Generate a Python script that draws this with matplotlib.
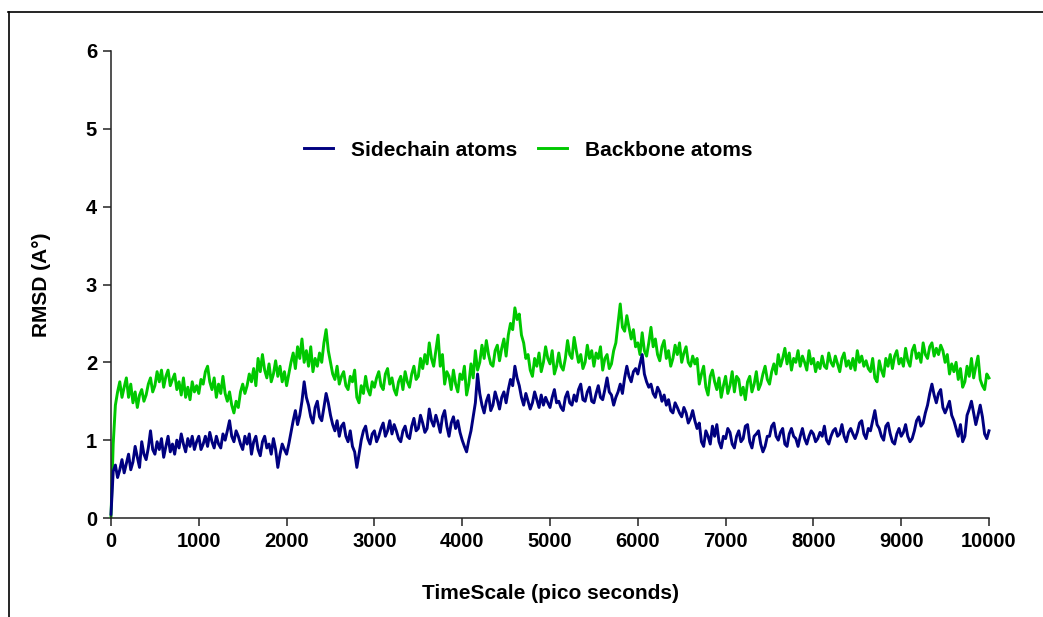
import numpy as np
import matplotlib
matplotlib.use("Agg")
import matplotlib.pyplot as plt
from matplotlib.lines import Line2D

plt.rcParams["font.family"] = ["Liberation Sans", "DejaVu Sans"]
plt.rcParams["font.weight"] = "bold"

# RMSD (Angstrom) sampled every 25 ps over the 10 ns trajectory (one row = 500 ps)
backbone_rmsd = [
    0.02, 0.95, 1.45, 1.62, 1.75, 1.55, 1.68, 1.8, 1.55, 1.72, 1.48, 1.62, 1.42, 1.58, 1.65, 1.5, 1.58, 1.72, 1.8, 1.62,
    1.7, 1.88, 1.75, 1.9, 1.68, 1.82, 1.9, 1.7, 1.78, 1.85, 1.65, 1.75, 1.58, 1.8, 1.55, 1.68, 1.52, 1.75, 1.62, 1.7,
    1.6, 1.78, 1.72, 1.88, 1.95, 1.75, 1.65, 1.8, 1.55, 1.72, 1.6, 1.82, 1.6, 1.5, 1.62, 1.45, 1.35, 1.5, 1.42, 1.62,
    1.72, 1.6, 1.7, 1.85, 1.75, 1.92, 1.7, 2.05, 1.88, 2.1, 1.9, 1.8, 1.98, 1.75, 1.85, 2.02, 1.82, 1.95, 1.75, 1.88,
    1.7, 1.85, 2.0, 2.12, 1.92, 2.2, 2.05, 2.3, 2.0, 2.15, 1.95, 2.2, 1.88, 2.05, 1.95, 2.12, 2.0, 2.25, 2.42, 2.15,
    2.0, 1.85, 1.78, 1.95, 1.72, 1.82, 1.88, 1.7, 1.65, 1.82, 1.75, 1.9, 1.55, 1.48, 1.7, 1.6, 1.82, 1.65, 1.58, 1.75,
    1.68, 1.8, 1.88, 1.7, 1.65, 1.85, 1.92, 1.72, 1.8, 1.65, 1.58, 1.75, 1.82, 1.65, 1.88, 1.75, 1.68, 1.85, 1.95, 1.78,
    1.82, 2.05, 1.92, 2.1, 1.98, 2.25, 2.05, 1.95, 2.15, 2.35, 1.95, 2.1, 1.72, 1.88, 1.82, 1.65, 1.9, 1.72, 1.62, 1.85,
    1.78, 1.95, 1.58, 1.72, 1.98, 1.8, 2.15, 1.9, 2.0, 2.22, 2.05, 2.28, 2.1, 1.98, 1.95, 2.15, 2.22, 2.02, 2.18, 2.3,
    2.08, 2.35, 2.5, 2.42, 2.7, 2.55, 2.62, 2.35, 2.25, 2.05, 2.1, 1.9, 1.82, 2.05, 1.95, 2.12, 1.88, 2.0, 2.2, 2.05,
    1.98, 2.15, 1.85, 1.95, 2.12, 1.95, 1.9, 2.05, 2.28, 2.1, 2.05, 2.32, 2.15, 2.0, 2.1, 1.92, 2.0, 2.22, 2.05, 2.15,
    1.95, 2.12, 2.05, 2.2, 1.9, 2.05, 2.1, 1.92, 1.98, 2.15, 2.25, 2.5, 2.75, 2.45, 2.4, 2.6, 2.45, 2.3, 2.42, 2.2,
    2.25, 2.1, 2.38, 2.15, 2.08, 2.25, 2.45, 2.2, 2.3, 2.1, 2.02, 2.2, 2.28, 2.05, 2.15, 1.95, 2.05, 2.22, 2.1, 2.25,
    2.0, 2.12, 2.2, 2.0, 1.95, 2.08, 1.98, 2.05, 1.72, 1.85, 1.95, 1.68, 1.58, 1.82, 1.9, 1.75, 1.65, 1.8, 1.55, 1.7,
    1.82, 1.6, 1.7, 1.88, 1.62, 1.82, 1.78, 1.58, 1.68, 1.52, 1.75, 1.82, 1.62, 1.72, 1.88, 1.65, 1.72, 1.85, 1.95, 1.78,
    1.72, 1.88, 1.98, 1.85, 2.1, 1.95, 2.05, 2.18, 1.98, 2.12, 1.9, 2.05, 2.0, 2.15, 1.95, 2.08, 2.0, 1.9, 2.15, 1.98,
    2.05, 1.88, 2.0, 1.92, 2.08, 1.95, 1.92, 2.12, 2.0, 1.95, 2.08, 1.98, 1.88, 2.05, 2.12, 1.95, 2.02, 1.92, 2.05, 1.9,
    2.15, 2.0, 2.08, 1.95, 2.02, 1.92, 1.88, 2.05, 1.8, 1.75, 2.02, 1.9, 1.82, 2.05, 1.95, 2.1, 1.92, 2.08, 2.15, 1.98,
    2.05, 1.95, 2.18, 2.02, 1.95, 2.15, 2.22, 2.05, 2.12, 2.0, 2.25, 2.1, 2.05, 2.2, 2.25, 2.08, 2.18, 2.1, 2.22, 2.15,
    2.0, 2.1, 1.85, 1.98, 1.88, 2.0, 1.78, 1.92, 1.68, 1.75, 1.95, 1.82, 2.05, 1.8, 1.95, 2.08, 1.78, 1.7, 1.65, 1.85,
    1.8,
]

sidechain_rmsd = [
    0.05, 0.6, 0.68, 0.52, 0.62, 0.75, 0.58, 0.7, 0.82, 0.62, 0.72, 0.92, 0.78, 0.65, 0.98, 0.82, 0.75, 0.9, 1.12, 0.88,
    0.82, 0.98, 0.88, 1.02, 0.78, 0.92, 1.05, 0.85, 0.95, 0.82, 1.0, 0.9, 1.08, 0.95, 0.85, 1.02, 0.92, 1.05, 0.88, 0.98,
    1.05, 0.88, 0.95, 1.05, 0.92, 1.1, 0.98, 0.9, 1.05, 0.95, 0.9, 1.08, 1.0, 1.12, 1.25, 1.05, 0.98, 1.12, 1.05, 0.95,
    0.88, 1.05, 0.95, 1.08, 0.82, 0.98, 1.05, 0.88, 0.8, 0.98, 1.05, 0.9, 0.95, 0.82, 1.02, 0.88, 0.65, 0.82, 0.95, 0.88,
    0.82, 0.95, 1.1, 1.25, 1.38, 1.2, 1.32, 1.5, 1.75, 1.55, 1.45, 1.3, 1.22, 1.42, 1.5, 1.3, 1.25, 1.42, 1.6, 1.48,
    1.32, 1.2, 1.12, 1.25, 1.05, 1.18, 1.22, 1.05, 0.98, 1.12, 0.92, 0.85, 0.65, 0.82, 1.0, 1.12, 1.18, 1.02, 0.95, 1.08,
    1.12, 0.98, 1.05, 1.15, 1.22, 1.05, 1.12, 1.25, 1.08, 1.2, 1.12, 1.02, 0.98, 1.12, 1.18, 1.05, 1.02, 1.18, 1.28, 1.12,
    1.15, 1.32, 1.22, 1.1, 1.15, 1.4, 1.25, 1.18, 1.32, 1.22, 1.1, 1.3, 1.38, 1.18, 1.05, 1.22, 1.3, 1.15, 1.25, 1.1,
    1.0, 0.92, 0.85, 1.0, 1.12, 1.3, 1.48, 1.85, 1.6, 1.45, 1.35, 1.5, 1.58, 1.38, 1.45, 1.62, 1.52, 1.4, 1.55, 1.62,
    1.48, 1.65, 1.78, 1.7, 1.95, 1.8, 1.7, 1.55, 1.45, 1.6, 1.5, 1.4, 1.48, 1.62, 1.52, 1.42, 1.58, 1.45, 1.55, 1.48,
    1.42, 1.55, 1.65, 1.48, 1.5, 1.42, 1.38, 1.55, 1.62, 1.48, 1.45, 1.58, 1.5, 1.65, 1.72, 1.52, 1.5, 1.62, 1.68, 1.5,
    1.48, 1.6, 1.7, 1.55, 1.52, 1.65, 1.8, 1.62, 1.58, 1.45, 1.55, 1.62, 1.72, 1.6, 1.8, 1.95, 1.82, 1.75, 1.88, 1.92,
    1.85, 1.98, 2.1, 1.85, 1.75, 1.68, 1.72, 1.6, 1.55, 1.68, 1.62, 1.5, 1.58, 1.45, 1.52, 1.38, 1.35, 1.48, 1.42, 1.35,
    1.3, 1.42, 1.35, 1.22, 1.28, 1.38, 1.25, 1.15, 1.22, 0.98, 0.92, 1.12, 1.05, 0.95, 1.18, 1.05, 1.2, 0.98, 0.9, 1.05,
    1.02, 1.15, 1.1, 0.95, 0.9, 1.05, 1.12, 0.98, 1.02, 1.18, 1.2, 0.98, 0.9, 1.05, 1.08, 1.12, 0.95, 0.85, 0.92, 1.05,
    1.05, 1.18, 1.22, 1.05, 1.0, 1.1, 1.15, 0.95, 0.92, 1.08, 1.15, 1.05, 1.02, 0.92, 1.05, 1.15, 1.02, 0.95, 1.05, 1.12,
    1.08, 0.98, 1.02, 1.1, 1.05, 1.18, 1.0, 0.95, 1.05, 1.12, 1.15, 1.05, 1.08, 1.2, 1.05, 0.98, 1.1, 1.15, 1.08, 1.02,
    1.1, 1.22, 1.25, 1.08, 1.02, 1.15, 1.12, 1.25, 1.38, 1.2, 1.15, 1.05, 1.0, 1.18, 1.22, 1.08, 0.98, 0.95, 1.08, 1.15,
    1.05, 1.1, 1.2, 1.05, 0.98, 1.02, 1.12, 1.25, 1.3, 1.18, 1.22, 1.35, 1.45, 1.6, 1.72, 1.58, 1.48, 1.6, 1.65, 1.42,
    1.35, 1.42, 1.5, 1.32, 1.25, 1.15, 1.05, 1.2, 0.98, 1.05, 1.32, 1.4, 1.5, 1.35, 1.2, 1.32, 1.45, 1.3, 1.08, 1.02,
    1.12,
]

time_end_ps = 10000
backbone_time = np.linspace(0, time_end_ps, len(backbone_rmsd))
sidechain_time = np.linspace(0, time_end_ps, len(sidechain_rmsd))

series_labels = ["Sidechain atoms", "Backbone atoms"]
series_colors = ["#000080", "#00c800"]

x_ticks = [0, 1000, 2000, 3000, 4000, 5000, 6000, 7000, 8000, 9000, 10000]
y_ticks = [0, 1, 2, 3, 4, 5, 6]

fig = plt.figure(figsize=(10.43, 6.17), dpi=100)
fig.patch.set_facecolor("white")
ax = fig.add_axes([111 / 1043, 1 - 518 / 617, (989 - 111) / 1043, (518 - 51) / 617])

ax.plot(backbone_time, backbone_rmsd, color=series_colors[1], lw=2.1,
        label=series_labels[1], clip_on=False, zorder=2)
ax.plot(sidechain_time, sidechain_rmsd, color=series_colors[0], lw=2.1,
        label=series_labels[0], clip_on=False, zorder=3)

ax.set_xlim(0, time_end_ps)
ax.set_ylim(0, 6)
ax.set_xticks(x_ticks)
ax.set_yticks(y_ticks)
ax.set_xticklabels([str(v) for v in x_ticks])
ax.set_yticklabels([str(v) for v in y_ticks])

for side in ("top", "right"):
    ax.spines[side].set_visible(False)
for side in ("left", "bottom"):
    ax.spines[side].set_linewidth(1.1)
    ax.spines[side].set_color("#222222")

ax.tick_params(axis="both", direction="out", length=6, width=1.1,
               color="#222222", labelsize=14.5, pad=4)
for lbl in ax.get_xticklabels() + ax.get_yticklabels():
    lbl.set_fontweight("bold")

ax.set_xlabel("TimeScale (pico seconds)", fontsize=15, fontweight="bold", labelpad=24)
ax.set_ylabel("RMSD (A°)", fontsize=15, fontweight="bold", labelpad=25)

handles, labels = ax.get_legend_handles_labels()
order = [1, 0]
fig.legend([handles[i] for i in order], [labels[i] for i in order],
           loc="center", bbox_to_anchor=(528 / 1043, 1 - 150 / 617),
           ncol=2, frameon=False, handlelength=1.4,
           handletextpad=0.85, columnspacing=1.0,
           prop={"weight": "bold", "size": 15})

# outer frame: top and left rules around the figure
fig.add_artist(Line2D([8 / 1043, 1.0], [1 - 12 / 617, 1 - 12 / 617],
                      transform=fig.transFigure, color="black", lw=1.2))
fig.add_artist(Line2D([9 / 1043, 9 / 1043], [0.0, 1 - 12 / 617],
                      transform=fig.transFigure, color="black", lw=1.2))

fig.savefig("out.png", dpi=100, facecolor="white")
